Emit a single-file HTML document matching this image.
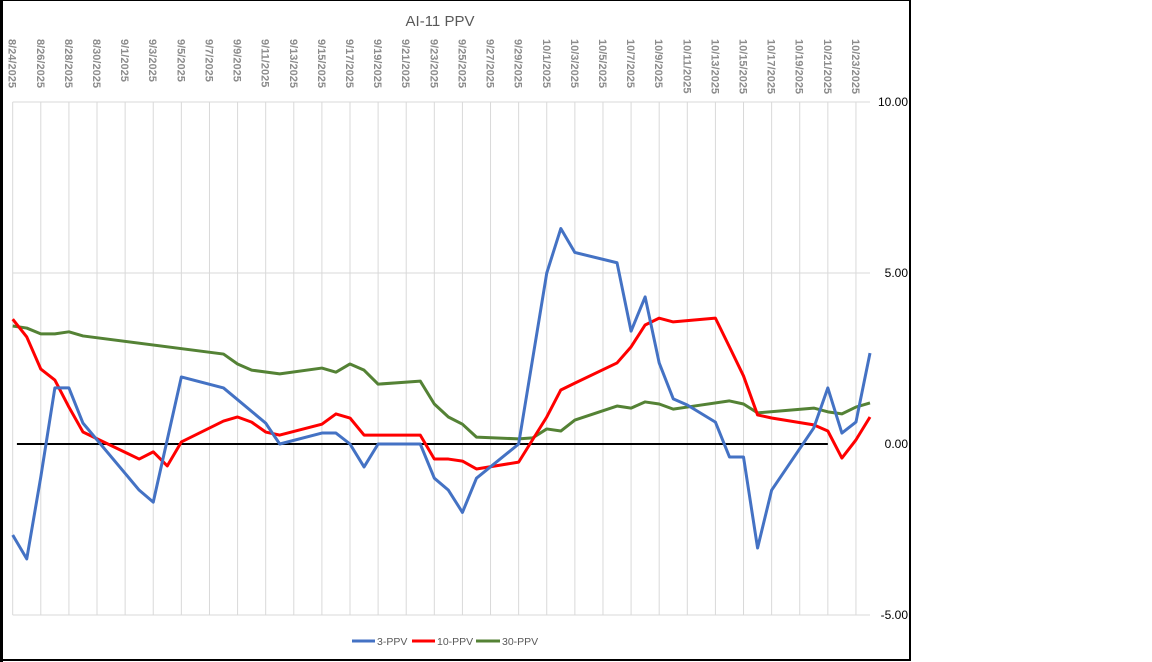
<!DOCTYPE html>
<html><head><meta charset="utf-8"><style>
html,body{margin:0;padding:0;background:#fff;width:1152px;height:662px;overflow:hidden}
svg{display:block}
text{font-family:"Liberation Sans",sans-serif}
</style></head><body>
<svg id="chart" width="1152" height="662">
<rect x="1" y="0" width="909" height="660" fill="#fff" stroke="#000" stroke-width="2"/>
<rect x="0" y="0" width="3" height="662" fill="#000"/>
<text x="440" y="26" font-size="15" fill="#595959" text-anchor="middle">AI-11 PPV</text>
<g id="grid"></g><g id="xlabels"></g><g id="ylabels"></g><g id="series"></g>
<g>
<line x1="352" y1="641" x2="375" y2="641" stroke="#4472c4" stroke-width="3"/>
<text x="377" y="645" font-size="10.5" fill="#595959">3-PPV</text>
<line x1="412" y1="641" x2="435" y2="641" stroke="#ff0000" stroke-width="3"/>
<text x="437" y="645" font-size="10.5" fill="#595959">10-PPV</text>
<line x1="476" y1="641" x2="500" y2="641" stroke="#548235" stroke-width="3"/>
<text x="502" y="645" font-size="10.5" fill="#595959">30-PPV</text>
</g>
</svg>
<script>
const yTicks=[10,5,0,-5];
const yTickLabels=["10.00","5.00","0.00","-5.00"];
const days3=[0,1,2,3,4,5,9,10,12,15,18,19,22,23,24,25,26,29,30,31,32,33,36,38,39,40,43,44,45,46,47,48,50,51,52,53,54,57,58,59,60,61];
const vals3=[-2.66,-3.36,-0.96,1.64,1.64,0.61,-1.35,-1.7,1.96,1.64,0.61,0,0.32,0.32,0,-0.67,0,0,-1.0,-1.35,-2.0,-1.0,0,5.0,6.3,5.6,5.3,3.3,4.3,2.37,1.32,1.14,0.64,-0.38,-0.38,-3.04,-1.35,0.47,1.64,0.32,0.64,2.66];
const days10=[0,1,2,3,4,5,9,10,11,12,15,16,17,18,19,22,23,24,25,29,30,31,32,33,36,38,39,40,43,44,45,46,47,50,51,52,53,54,57,58,59,60,61];
const vals10=[3.65,3.13,2.19,1.87,1.08,0.35,-0.44,-0.23,-0.64,0.06,0.67,0.79,0.64,0.35,0.26,0.58,0.88,0.76,0.26,0.26,-0.44,-0.44,-0.5,-0.73,-0.53,0.79,1.58,1.78,2.37,2.84,3.48,3.68,3.57,3.68,2.84,1.99,0.85,0.76,0.56,0.38,-0.41,0.12,0.79];
const days30=[0,1,2,3,4,5,15,16,17,19,22,23,24,25,26,29,30,31,32,33,36,37,38,39,40,43,44,45,46,47,48,51,52,53,57,58,59,60,61];
const vals30=[3.45,3.39,3.22,3.22,3.28,3.16,2.63,2.34,2.16,2.05,2.22,2.1,2.34,2.16,1.75,1.84,1.17,0.79,0.58,0.2,0.15,0.18,0.44,0.38,0.7,1.11,1.05,1.23,1.17,1.02,1.08,1.26,1.17,0.91,1.05,0.94,0.88,1.08,1.2];
const startDate=new Date(2025,7,24);
const numDays=61;
const X0=12.7,X1=870,Y0=444,PXU=34.2;
const x=d=>X0+(X1-X0)*d/numDays;
const y=v=>Y0-v*PXU;
const NS="http://www.w3.org/2000/svg";
function mk(tag,attrs,parent){const e=document.createElementNS(NS,tag);for(const k in attrs)e.setAttribute(k,attrs[k]);parent.appendChild(e);return e;}
const grid=document.getElementById('grid'),xl=document.getElementById('xlabels'),yl=document.getElementById('ylabels'),ser=document.getElementById('series');
yTicks.forEach((t,i)=>{
  if(t!==0){const l=mk('line',{x1:X0,x2:X1,y1:y(t),y2:y(t),stroke:'#d9d9d9','stroke-width':1},grid);
  
  }
  const tx=mk('text',{x:908,y:y(t)+4,'font-size':12,fill:'#000','text-anchor':'end'},yl);
  tx.textContent=yTickLabels[i];
  
  
});
for(let d=0;d<=numDays;d+=2){
  const l=mk('line',{x1:x(d),x2:x(d),y1:y(10),y2:y(-5),stroke:'#d9d9d9','stroke-width':1},grid);
  
  
  if(d<=60){
    const dt=new Date(startDate);dt.setDate(dt.getDate()+d);
    const lab=(dt.getMonth()+1)+'/'+dt.getDate()+'/'+dt.getFullYear();
    const tx=mk('text',{x:0,y:0,'font-size':11,'font-weight':'bold',fill:'#8c8c8c',transform:`translate(${x(d)-4},39) rotate(90)`},xl);
    tx.textContent=lab;
    
    
  }
}
{const l=mk('line',{x1:x(0.3),x2:x(58),y1:y(0),y2:y(0),stroke:'#000','stroke-width':2},grid);

}
function series(days,vals,color,name){
  const p=mk('polyline',{points:days.map((d,i)=>x(d)+','+y(vals[i])).join(' '),fill:'none',stroke:color,'stroke-width':3,'stroke-linejoin':'round'},ser);
  
  
}
series(days30,vals30,'#548235','series-30-ppv');
series(days10,vals10,'#ff0000','series-10-ppv');
series(days3,vals3,'#4472c4','series-3-ppv');
</script>
</body></html>
